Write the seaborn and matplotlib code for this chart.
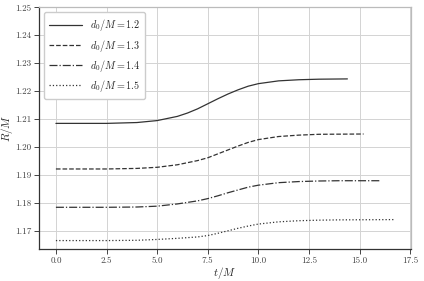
import numpy as np
import pandas as pd
import matplotlib
matplotlib.use("Agg")
import matplotlib.pyplot as plt
import seaborn as sns

# values
t_12 = [0.0, 2.5, 4.0, 5.0, 6.0, 6.5, 7.0, 7.5, 8.0, 8.5, 9.0, 9.5, 10.0, 11.0, 12.0, 13.0, 14.4]
r_12 = [1.2085, 1.2085, 1.2088, 1.2095, 1.2110, 1.2122, 1.2137, 1.2155, 1.2173, 1.2190, 1.2205,
        1.2218, 1.2227, 1.2237, 1.2241, 1.2243, 1.2244]

t_13 = [0.0, 2.5, 4.0, 5.0, 6.0, 7.0, 7.5, 8.0, 8.5, 9.0, 9.5, 10.0, 11.0, 12.0, 13.0, 15.2]
r_13 = [1.1922, 1.1922, 1.1924, 1.1928, 1.1937, 1.1952, 1.1962, 1.1976, 1.1990, 1.2004, 1.2017,
        1.2027, 1.2038, 1.2043, 1.2046, 1.2047]

t_14 = [0.0, 2.5, 4.0, 5.0, 6.0, 7.0, 7.5, 8.0, 8.5, 9.0, 9.5, 10.0, 11.0, 12.0, 13.0, 14.0, 16.05]
r_14 = [1.1785, 1.1785, 1.1786, 1.1789, 1.1797, 1.1808, 1.1816, 1.1826, 1.1837, 1.1847, 1.1857,
        1.1864, 1.1873, 1.1877, 1.1879, 1.1880, 1.1880]

t_15 = [0.0, 2.5, 4.0, 5.0, 6.0, 7.0, 7.5, 8.0, 8.5, 9.0, 9.5, 10.0, 11.0, 12.0, 13.0, 14.0, 16.7]
r_15 = [1.1666, 1.1666, 1.1667, 1.1670, 1.1674, 1.1679, 1.1684, 1.1692, 1.1701, 1.1710, 1.1718,
        1.1725, 1.1733, 1.1737, 1.1739, 1.1740, 1.1741]

labels = [r"$d_0/M = 1.2$", r"$d_0/M = 1.3$", r"$d_0/M = 1.4$", r"$d_0/M = 1.5$"]
styles = ["-", "--", "-.", ":"]

sns.set_theme(style="whitegrid")
plt.rcParams["font.family"] = "serif"
plt.rcParams["font.serif"] = ["cmr10", "DejaVu Serif"]
plt.rcParams["mathtext.fontset"] = "cm"
plt.rcParams["axes.formatter.use_mathtext"] = True

fig, ax = plt.subplots(figsize=(4.24, 2.81), dpi=100)

for t, r, lab, ls in zip([t_12, t_13, t_14, t_15], [r_12, r_13, r_14, r_15], labels, styles):
    df = pd.DataFrame({"t": t, "r": r})
    sns.lineplot(data=df, x="t", y="r", ax=ax, color="#333333", linestyle=ls,
                 linewidth=0.9, label=lab)

ax.set_ylim(1.1636, 1.25)
ax.set_xticks(np.arange(0, 17.6, 2.5))
ax.set_yticks(np.arange(1.17, 1.2501, 0.01))
ax.xaxis.set_major_formatter(matplotlib.ticker.FormatStrFormatter("%.1f"))
ax.yaxis.set_major_formatter(matplotlib.ticker.FormatStrFormatter("%.2f"))
ax.tick_params(labelsize=6.5, length=3.5, width=0.7, pad=2, colors="#444444",
               left=True, bottom=True)
ax.set_xlabel(r"$t/M$", fontsize=8, labelpad=0)
ax.set_ylabel(r"$R/M$", fontsize=8, labelpad=0)
ax.grid(True, color="#d3d3d3", linewidth=0.7)
for side in ["left", "bottom"]:
    ax.spines[side].set_color("#333333")
    ax.spines[side].set_linewidth(0.9)
for side in ["top", "right"]:
    ax.spines[side].set_color("#bbbbbb")
    ax.spines[side].set_linewidth(0.9)
ax.legend(loc="upper left", fontsize=7.3, frameon=True, handlelength=3.2, labelspacing=0.4,
          borderpad=0.5, framealpha=1, edgecolor="#cccccc")

fig.subplots_adjust(left=0.092, right=0.969, top=0.974, bottom=0.114)
fig.savefig("out.png", dpi=100)
